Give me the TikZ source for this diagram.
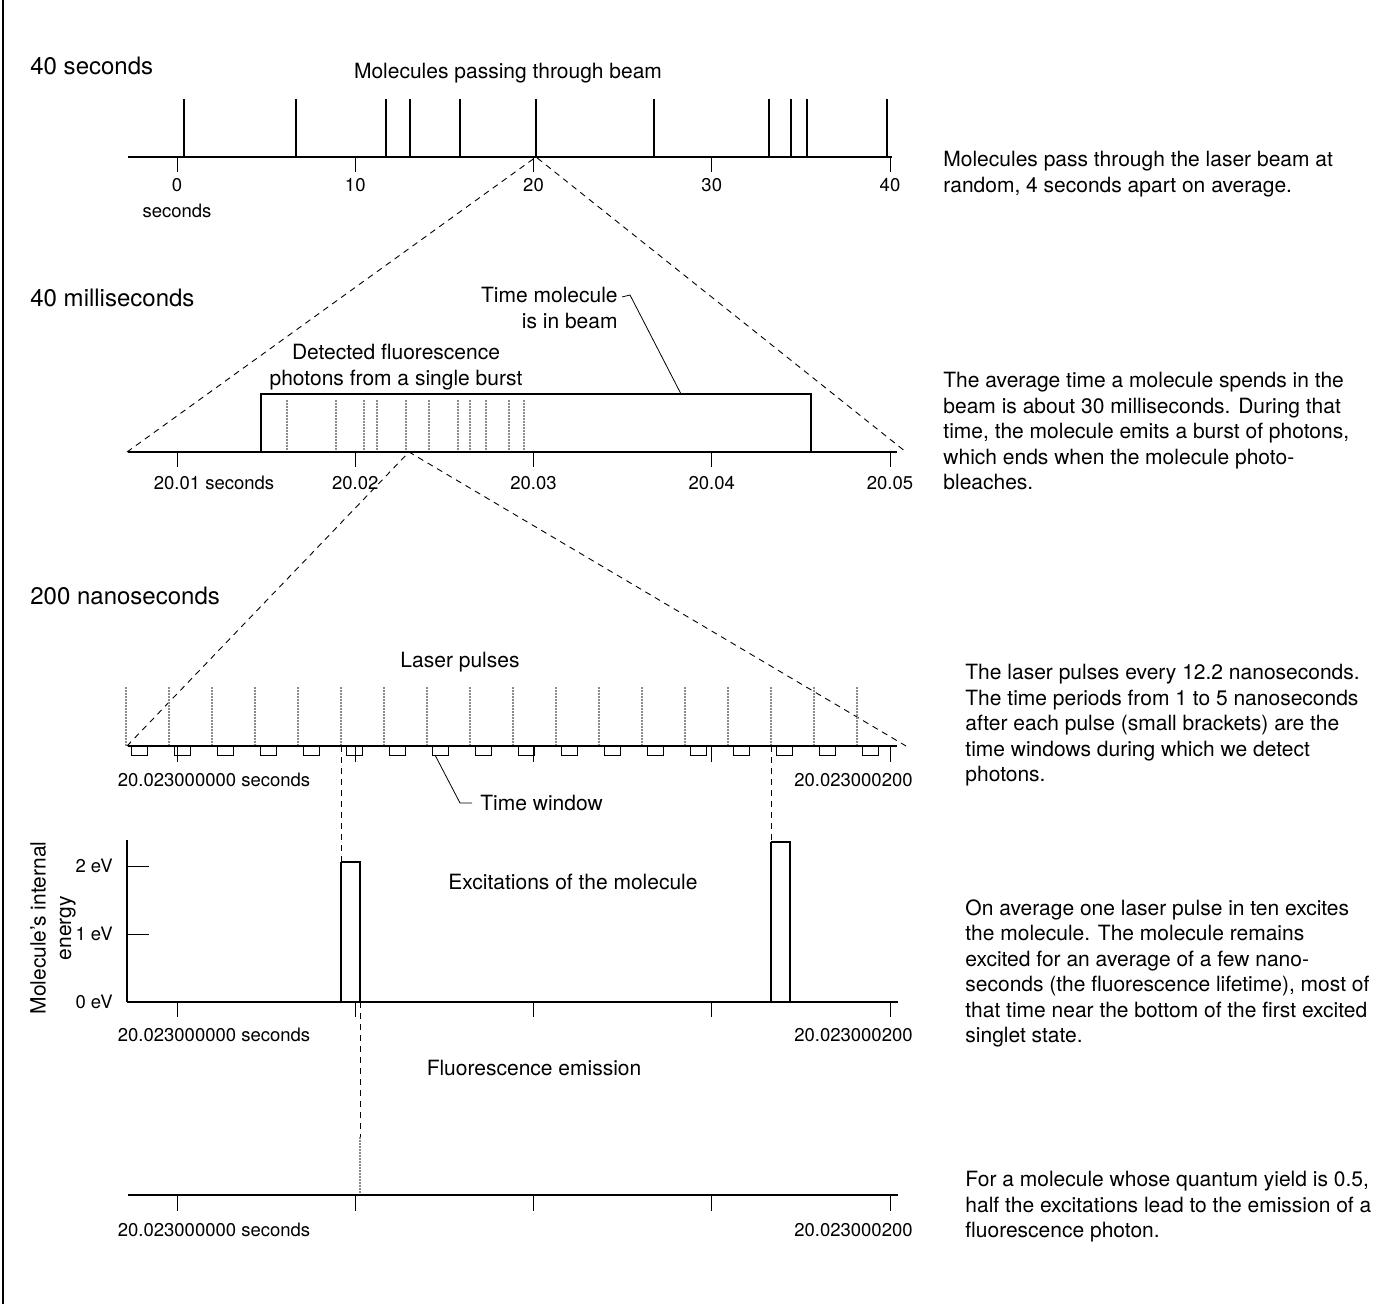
\documentclass[tikz,border=0pt]{standalone}
\usepackage{fontspec}
\setmainfont{TeX Gyre Heros}
\usetikzlibrary{positioning}

\tikzset{
  headtxt/.style={font=\fontsize{12}{14}\selectfont, inner sep=0pt, anchor=west},
  titletxt/.style={font=\fontsize{10.5}{12.75}\selectfont, inner sep=0pt, anchor=base},
  bodytxt/.style={font=\fontsize{10.5}{12.75}\selectfont, inner sep=0pt, align=left, anchor=north west},
  ticktxt/.style={font=\fontsize{9.25}{11}\selectfont, inner sep=0pt},
  axisline/.style={line width=0.9pt},
  tickline/.style={line width=0.4pt},
  zoomline/.style={line width=0.45pt, dash pattern=on 3pt off 2.5pt},
  photon/.style={draw={rgb, 255:red, 140; green, 140; blue, 140}, line width=0.7pt, dash pattern=on 1pt off 0.5pt},
  spike/.style={line width=1.3pt},
}

\begin{document}
\begin{tikzpicture}[x=0.5pt,y=0.5pt,yscale=-1]
    \useasboundingbox (0,0) rectangle (1385,1304);
    %Straight Lines [left border]
    \draw [line width=0.6pt] (3,0) -- (3,1304) ;

    %Text Node [40 seconds]
    \node [headtxt] (hsec) at (30,66) {40 seconds};
    \node [titletxt] (tpass) at (508,79) {Molecules passing through beam};
    %Straight Lines [axis 1]
    \draw [axisline] (128,157) -- (892,157) ;
    \foreach \k/\lab in {0/0,1/10,2/20,3/30,4/40}{
      \draw [tickline] ({177+178.25*\k},157) -- ++(0,15) ;
      \node [ticktxt] (s\k) at ({177+178.25*\k},185) {\lab};
    }
    \node [ticktxt, below=6pt of s0] (ssec) {seconds};
    %Straight Lines [molecules]
    \foreach \x in {184,296,386,410,460,536,654,769,791,807,887}
      \draw [spike] (\x,99) -- (\x,157) ;

    %Straight Lines [zoom 1]
    \coordinate (za) at (536,157);
    \coordinate (zaL) at (127,452);
    \coordinate (zaR) at (906,452);
    \draw [zoomline] (zaL) -- (za) -- (zaR) ;

    %Text Node [40 milliseconds]
    \node [headtxt] (hmsec) at (30,298) {40 milliseconds};
    \node [bodytxt, align=center, anchor=north] (tdet) at (396,344) {Detected fluorescence\\photons from a single burst};
    \node [bodytxt, align=right, anchor=north east] (tmol) at (618,287) {Time molecule\\is in beam};
    %Shape: Rectangle [beam time]
    \draw [line width=0.6pt] (261,452) -- (261,394) -- (811,394) -- (811,452) ;
    \foreach \x in {287,336,364,377,406,429,458,470,486,509,524}
      \draw [photon] (\x,400) -- (\x,452) ;
    \coordinate (tm1) at (622,297);
    \coordinate (tm2) at (630,295);
    \coordinate (tm3) at (681,394);
    \draw [tickline] (tm1) -- (tm2) -- (tm3) ;
    %Straight Lines [axis 2]
    \draw [axisline] (128,452) -- (897,452) ;
    \foreach \k/\lab in {0/{20.01\rlap{ seconds}},1/20.02,2/20.03,3/20.04,4/20.05}{
      \draw [tickline] ({177+178.25*\k},452) -- ++(0,15) ;
      \node [ticktxt] (m\k) at ({177+178.25*\k},483) {\lab};
    }

    %Straight Lines [zoom 2]
    \coordinate (zb) at (409,452);
    \coordinate (zbL) at (127,746);
    \coordinate (zbR) at (906,746);
    \draw [zoomline] (zbL) -- (zb) -- (zbR) ;

    %Text Node [200 nanoseconds]
    \node [headtxt] (hnsec) at (30,596) {200 nanoseconds};
    \node [titletxt] (tlaser) at (460,667) {Laser pulses};
    \foreach \k in {0,...,17}{
      \draw [photon] ({126+43*\k},687) -- ({126+43*\k},746) ;
      \draw [tickline] ({131+43*\k},746) -- ++(0,9) -- ++(16,0) -- ++(0,-9) ;
    }
    %Straight Lines [axis 3]
    \draw [axisline] (128,746) -- (897,746) ;
    \foreach \k in {0,...,4}
      \draw [tickline] ({177+178.25*\k},746) -- ++(0,16) ;
    \node [ticktxt] (n0) at (177,780) {20.023000000\rlap{ seconds}};
    \node [ticktxt, anchor=east] (n4) at (913,780) {20.023000200};
    \node [titletxt, anchor=west] (twin) at (480,803) {Time window};
    \coordinate (tw1) at (435,755);
    \coordinate (tw2) at (460,803);
    \draw [tickline] (tw1) -- (tw2) -- ([xshift=-4pt]twin.west) ;

    %Straight Lines [pulses that excite]
    \coordinate (ea) at (341,746);
    \coordinate (eaB) at (341,862);
    \coordinate (eb) at (771,746);
    \coordinate (ebB) at (771,842);
    \draw [zoomline] (ea) -- (eaB) ;
    \draw [zoomline] (eb) -- (ebB) ;

    %Shape: Axis [energy]
    \node [bodytxt, anchor=center, align=center, rotate=90] (yl) at (53,928) {Molecule's internal\\energy};
    \draw [line width=0.6pt] (127,840) -- (127,1002) ;
    \foreach \v in {0,1,2}{
      \draw [tickline] (127,{1002-68*\v}) -- ++(22,0) ;
      \node [ticktxt, anchor=east] (ev\v) at (113,{1002-68*\v}) {\v\ eV};
    }
    \draw [axisline] (127,1002) -- (898,1002) ;
    \foreach \k in {0,...,4}
      \draw [tickline] ({177+178.25*\k},1002) -- ++(0,15) ;
    \node [ticktxt] (x0) at (177,1035) {20.023000000\rlap{ seconds}};
    \node [ticktxt, anchor=east] (x4) at (913,1035) {20.023000200};
    \node [titletxt] (texc) at (573,889) {Excitations of the molecule};
    %Shape: Rectangle [excitations]
    \draw [line width=0.7pt] (eaB) -- (360,862) -- (360,1002) ;
    \draw [line width=0.7pt] (341,1002) -- (eaB) ;
    \draw [line width=0.7pt] (ebB) -- (790,842) -- (790,1002) ;
    \draw [line width=0.7pt] (771,1002) -- (ebB) ;

    %Straight Lines [emission]
    \coordinate (fa) at (360,1002);
    \coordinate (fb) at (360,1137);
    \coordinate (fc) at (360,1195);
    \draw [zoomline] (fa) -- (fb) ;
    \draw [photon] (fb) -- (fc) ;
    \node [titletxt] (tfl) at (534,1075) {Fluorescence emission};
    \draw [axisline] (128,1195) -- (898,1195) ;
    \foreach \k in {0,...,4}
      \draw [tickline] ({177+178.25*\k},1195) -- ++(0,16) ;
    \node [ticktxt] (y0) at (177,1230) {20.023000000\rlap{ seconds}};
    \node [ticktxt, anchor=east] (y4) at (913,1230) {20.023000200};

    %Text Node [notes]
    \node [bodytxt] (c1) at (943,151) {Molecules pass through the laser beam at\\random, 4 seconds apart on average.};
    \node [bodytxt] (c2) at (943,372) {The average time a molecule spends in the\\beam is about 30 milliseconds.  During that\\time, the molecule emits a burst of photons,\\which ends when the molecule photo-\\bleaches.};
    \node [bodytxt] (c3) at (965,664) {The laser pulses every 12.2 nanoseconds.\\The time periods from 1 to 5 nanoseconds\\after each pulse (small brackets) are the\\time windows during which we detect\\photons.};
    \node [bodytxt] (c4) at (965,899) {On average one laser pulse in ten excites\\the molecule.  The molecule remains\\excited for an average of a few nano-\\seconds (the fluorescence lifetime), most of\\that time near the bottom of the first excited\\singlet state.};
    \node [bodytxt] (c5) at (965,1171) {For a molecule whose quantum yield is 0.5,\\half the excitations lead to the emission of a\\fluorescence photon.};
\end{tikzpicture}
\end{document}
